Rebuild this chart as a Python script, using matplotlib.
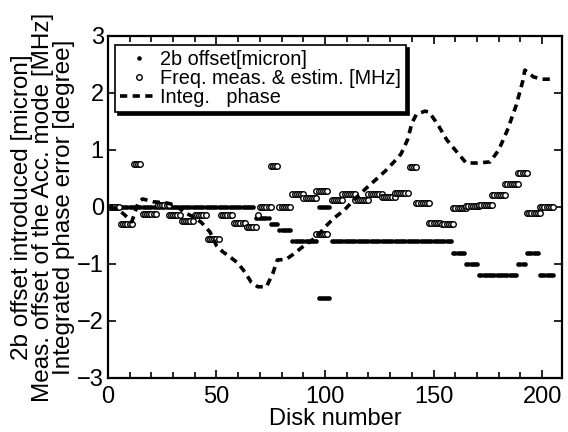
import numpy as np
import matplotlib
matplotlib.use("Agg")
import matplotlib.pyplot as plt
from matplotlib.ticker import MultipleLocator

plt.rcParams["font.family"] = ["Liberation Sans", "DejaVu Sans"]

# ============================
# Data
# ============================
# 2b offset [micron]: runs of disks with the same offset (first, last, value)
offset_first = [1, 68, 75, 79, 85, 97, 97, 103, 159, 165, 171, 189, 193, 199]
offset_last = [67, 74, 78, 84, 96, 102, 102, 158, 164, 170, 188, 192, 198, 205]
offset_value = [0.0, -0.2, -0.3, -0.4, -0.6, 0.0, -1.6, -0.6, -0.8, -1.0, -1.2, -1.0, -0.8, -1.2]

# Freq. meas. & estim. [MHz]: groups of disks (first, last, value)
freq_first = [1, 6, 12, 16, 23, 28, 34, 40, 46, 52, 58, 64, 69, 70, 75, 79, 85, 90,
              96, 96, 103, 108, 114, 120, 126, 132, 139, 142, 148, 154, 159, 165,
              171, 177, 183, 189, 193, 199]
freq_last = [5, 11, 15, 22, 28, 33, 39, 45, 51, 57, 63, 68, 69, 75, 78, 84, 90, 96,
             101, 101, 108, 114, 120, 126, 132, 138, 142, 148, 153, 159, 165, 171,
             177, 183, 189, 193, 199, 205]
freq_value = [0.0, -0.3, 0.75, -0.12, 0.03, -0.15, -0.25, -0.14, -0.56, -0.14, -0.28,
              -0.35, -0.14, 0.0, 0.72, 0.0, 0.23, 0.16, 0.28, -0.47, 0.12, 0.22, 0.12,
              0.22, 0.17, 0.25, 0.7, 0.07, -0.28, -0.3, -0.02, 0.02, 0.04, 0.21, 0.4,
              0.6, -0.1, 0.0]

# Integrated phase error [degree]
phase_disk = [1, 5, 8, 11, 14, 16, 21, 27, 31, 35, 39, 43, 47, 50, 53, 56, 60, 63,
              66, 69, 73, 76, 78, 82, 85, 89, 93, 97, 100, 104, 109, 114, 119, 124,
              128, 132, 135, 138, 140, 142, 146, 148, 152, 156, 161, 165, 170, 176,
              180, 184, 188, 191, 192, 196, 200, 205]
phase_value = [0.0, -0.05, -0.15, -0.26, 0.08, 0.14, 0.09, 0.07, 0.03, -0.09, -0.17,
               -0.27, -0.44, -0.68, -0.79, -0.87, -0.99, -1.14, -1.32, -1.40, -1.40,
               -1.16, -0.93, -0.92, -0.84, -0.72, -0.61, -0.49, -0.35, -0.2, -0.05,
               0.15, 0.33, 0.5, 0.64, 0.80, 0.93, 1.18, 1.47, 1.62, 1.68, 1.66, 1.44,
               1.18, 0.95, 0.77, 0.77, 0.79, 1.0, 1.35, 1.78, 2.2, 2.4, 2.28, 2.24, 2.24]


def expand(first, last, value):
    xs, ys = [], []
    for a, b, v in zip(first, last, value):
        for d in range(a, b + 1):
            xs.append(d)
            ys.append(v)
    return np.array(xs), np.array(ys)


off_x, off_y = expand(offset_first, offset_last, offset_value)
frq_x, frq_y = expand(freq_first, freq_last, freq_value)

# ============================
# Plot
# ============================
fig = plt.figure(figsize=(5.68, 4.32), dpi=100)
ax = fig.add_axes([0.19, 0.125, 0.799, 0.792])

ax.plot(off_x, off_y, "o", color="black", markersize=3.3, markeredgewidth=0,
        linestyle="none", label="2b offset[micron]")
ax.plot(frq_x, frq_y, "o", markerfacecolor="white", markeredgecolor="black",
        markersize=4, markeredgewidth=1.0, linestyle="none",
        label="Freq. meas. & estim. [MHz]")
ax.plot(phase_disk, phase_value, color="black", linewidth=2.6,
        dashes=(2.0, 1.5), label="Integ.   phase")

ax.set_xlim(0, 209)
ax.set_ylim(-3, 3)
ax.xaxis.set_major_locator(MultipleLocator(50))
ax.xaxis.set_minor_locator(MultipleLocator(10))
ax.yaxis.set_major_locator(MultipleLocator(1))
ax.tick_params(which="both", direction="in", top=True, right=True,
               labelsize=17, width=1.2, pad=3)
ax.tick_params(axis="x", which="major", pad=6)
ax.tick_params(which="major", length=6)
ax.tick_params(which="minor", length=4)
for s in ax.spines.values():
    s.set_linewidth(1.6)

ax.set_xlabel("Disk number", fontsize=17, labelpad=0)
ax.set_ylabel("2b offset introduced [micron]\nMeas. offset of the Acc. mode [MHz]\n"
              "Integrated phase error [degree]", fontsize=17.5, linespacing=0.95,
              labelpad=1)

leg = ax.legend(loc="upper left", bbox_to_anchor=(0.015, 0.973), fontsize=14.3,
                frameon=True, fancybox=False, handlelength=1.9, handletextpad=0.15,
                borderpad=0.25, labelspacing=0.0, borderaxespad=0,
                shadow={"color": "black", "alpha": 1})
leg.get_frame().set_edgecolor("black")
leg.get_frame().set_linewidth(1.2)

plt.savefig("out.png", dpi=100)
